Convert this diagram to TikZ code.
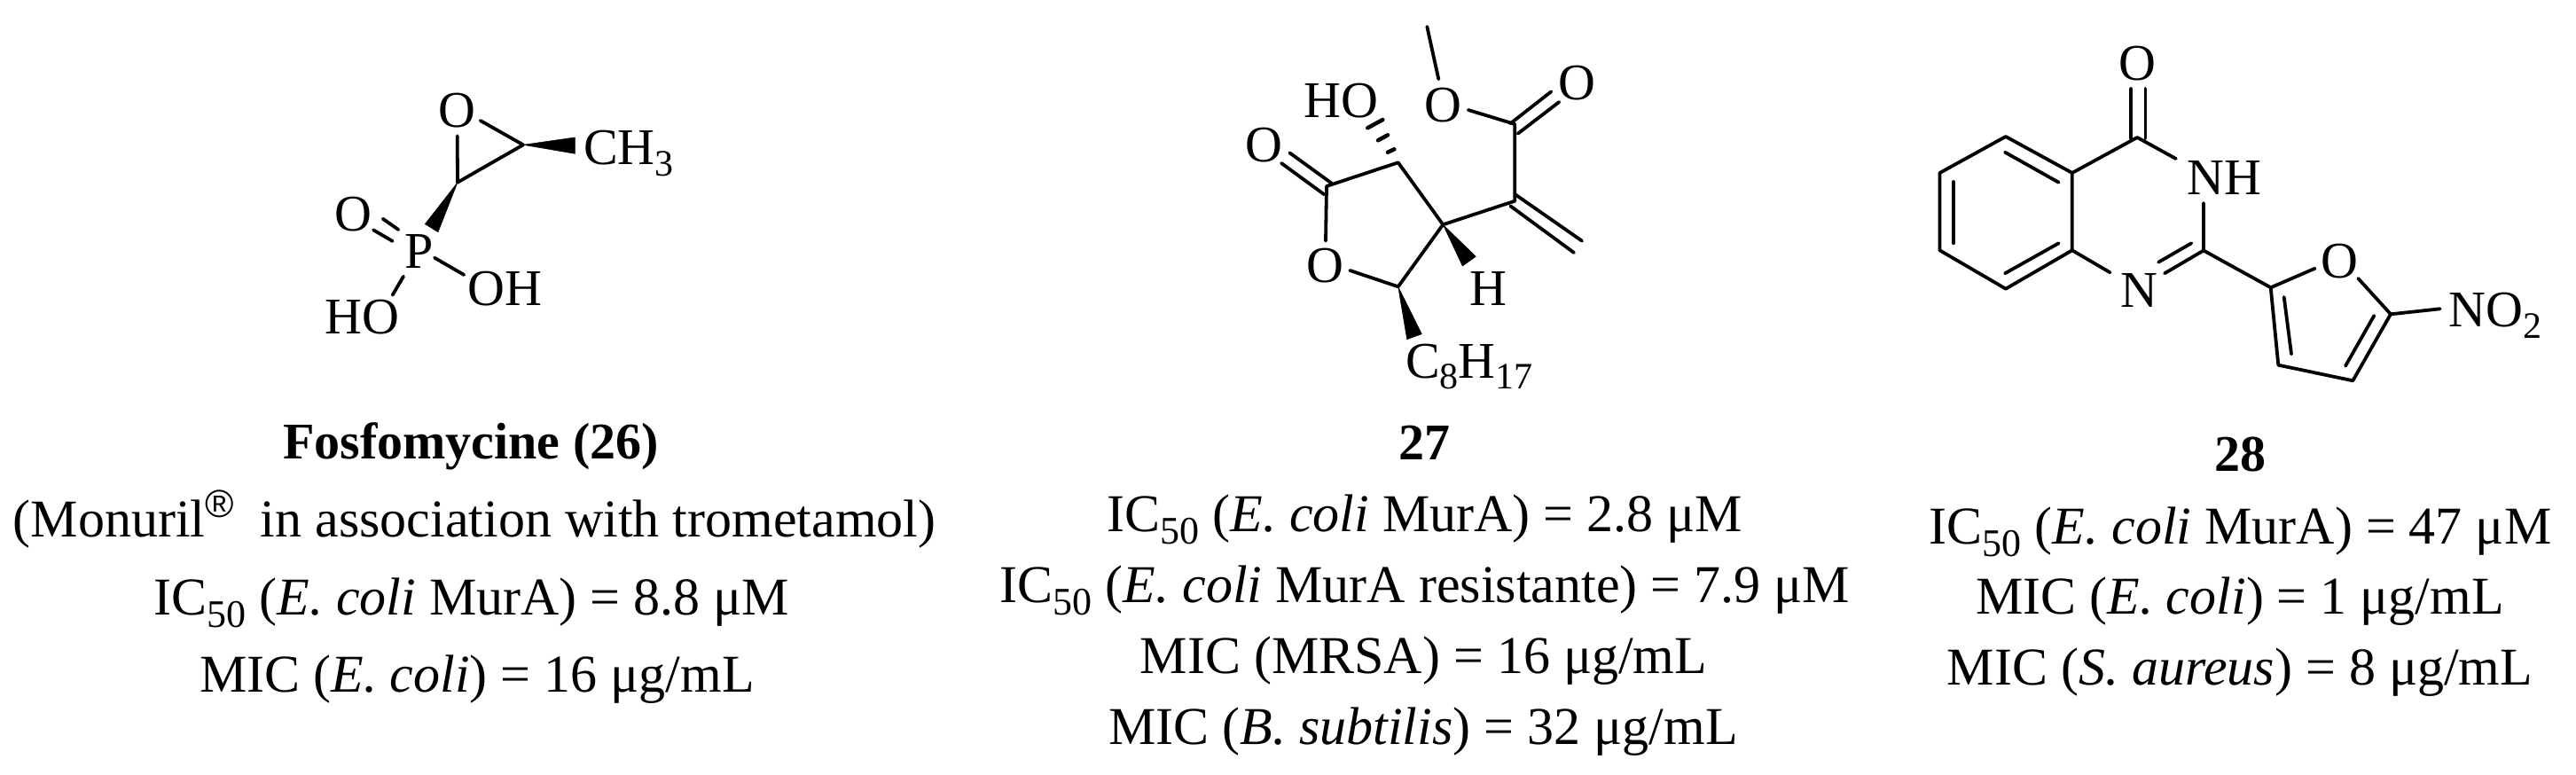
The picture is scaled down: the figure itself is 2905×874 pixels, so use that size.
\documentclass[tikz,border=0pt]{standalone}
\usepackage{fontspec}
\setmainfont{Liberation Serif}
\newfontfamily\regfont{Liberation Sans}
\newcommand{\subs}[1]{\raisebox{-13pt}{\fontsize{42pt}{42pt}\selectfont #1}}
\newcommand{\subt}[1]{\raisebox{-14pt}{\fontsize{44pt}{44pt}\selectfont #1}}
\newcommand{\regmark}{\raisebox{22pt}{\regfont\fontsize{44pt}{44pt}\selectfont ®}}
\tikzset{
  bond/.style={draw=black,line width=3.8pt,line cap=round,line join=round},
  wedge/.style={fill=black,draw=black,line width=0.5pt,line join=miter},
  hashbar/.style={draw=black,line width=4.5pt,line cap=round},
  lab/.style={inner sep=0pt,outer sep=0pt,anchor=base,font=\fontsize{58pt}{60pt}\selectfont,text=black},
  llab/.style={lab,anchor=base west},
  txt/.style={inner sep=0pt,outer sep=0pt,anchor=base,font=\fontsize{60pt}{62pt}\selectfont,text=black},
  boldtxt/.style={txt,font=\fontsize{58pt}{60pt}\selectfont\bfseries}
}
\begin{document}
\begin{tikzpicture}[x=1pt,y=-1pt]
\useasboundingbox (0,0) rectangle (2905,874);
\fill[white] (0,0) rectangle (2905,874);

%%% Compound 26
\node[lab] (aO) at (515,144) {O};
\node[llab] (aCH) at (658,186) {CH\subs{3}};
\node[lab] (aP) at (472.7,302.7) {P};
\node[lab] (aOd) at (398.3,261) {O};
\node[llab] (aOH) at (527.3,345) {OH};
\node[llab] (aHO) at (366.7,376.7) {HO};
\coordinate (a1) at (516,205.7);
\coordinate (a2) at (590,163.3);
\coordinate (aOr) at (541.7,136);
\coordinate (aOb) at (515.7,153.3);
\coordinate (aw1) at (648.3,155);
\coordinate (aw2) at (648.3,173.3);
\coordinate (aw3) at (479.3,252.7);
\coordinate (aw4) at (494,261.7);
\coordinate (ad1) at (431.7,246.7);
\coordinate (ad2) at (449.3,259);
\coordinate (ad3) at (421,259.3);
\coordinate (ad4) at (442.7,272);
\coordinate (ap1) at (490,290.7);
\coordinate (ap2) at (523.3,310);
\coordinate (ap3) at (455,311.7);
\coordinate (ap4) at (442.7,332.7);
\draw[bond] (aOr) -- (a2) -- (a1) -- (aOb);
\fill[wedge] (a2) -- (aw1) -- (aw2) -- cycle;
\fill[wedge] (a1) -- (aw3) -- (aw4) -- cycle;
\draw[bond] (ad1) -- (ad2);
\draw[bond] (ad3) -- (ad4);
\draw[bond] (ap1) -- (ap2);
\draw[bond] (ap3) -- (ap4);

\node[boldtxt] (t26) at (531,517) {Fosfomycine (26)};
\node[txt] (t26a) at (535,605.7) {(Monuril\regmark\ \ in association with trometamol)};
\node[txt] (t26b) at (532,693) {IC\subt{50} (\textit{E. coli} MurA) = 8.8 μM};
\node[txt] (t26c) at (538,780) {MIC (\textit{E. coli}) = 16 μg/mL};

%%% Compound 27
\node[lab] (bOm) at (1627.3,137.3) {O};
\node[lab] (bOk) at (1778.3,113) {O};
\node[lab] (bOl) at (1425,182.3) {O};
\node[lab] (bOr) at (1494,318.3) {O};
\node[llab] (bHO) at (1470.7,132.3) {HO};
\node[llab] (bH) at (1657.7,345) {H};
\node[llab] (bC) at (1585,426) {C\subs{8}H\subs{17}};
\coordinate (bMe) at (1609.3,30);
\coordinate (bMeO) at (1622.3,89.3);
\coordinate (bOC) at (1655.7,124);
\coordinate (bCo) at (1708.3,140);
\coordinate (bd1) at (1703.3,139.3);
\coordinate (bd2) at (1749.3,103.3);
\coordinate (bd3) at (1711.7,150.7);
\coordinate (bd4) at (1758.3,115);
\coordinate (bV) at (1708.3,226.7);
\coordinate (bv1) at (1708.3,219);
\coordinate (bv2) at (1784,271.7);
\coordinate (bv3) at (1703.3,232.3);
\coordinate (bv4) at (1775,285);
\coordinate (b3) at (1627.3,253.3);
\coordinate (b4) at (1576.7,183.3);
\coordinate (b5) at (1496,210);
\coordinate (b5O) at (1495,271.7);
\coordinate (bOC2) at (1522.3,305);
\coordinate (b2) at (1576.7,323.3);
\coordinate (bl1) at (1454.3,172.3);
\coordinate (bl2) at (1501.7,206.7);
\coordinate (bl3) at (1445,184);
\coordinate (bl4) at (1493.3,219.3);
\coordinate (bh1) at (1565,171.7);
\coordinate (bh2) at (1572.3,168.3);
\coordinate (bh3) at (1554,158.3);
\coordinate (bh4) at (1565,152.3);
\coordinate (bh5) at (1542.3,144.3);
\coordinate (bh6) at (1559.3,135);
\coordinate (bw1) at (1649.3,300);
\coordinate (bw2) at (1664.3,289.3);
\coordinate (bw3) at (1586.7,382.7);
\coordinate (bw4) at (1603.3,376.7);
\draw[bond] (bMe) -- (bMeO);
\draw[bond] (bOC) -- (bCo) -- (bV) -- (b3) -- (b4) -- (b5) -- (b5O);
\draw[bond] (bOC2) -- (b2) -- (b3);
\draw[bond] (bd1) -- (bd2);
\draw[bond] (bd3) -- (bd4);
\draw[bond] (bv1) -- (bv2);
\draw[bond] (bv3) -- (bv4);
\draw[bond] (bl1) -- (bl2);
\draw[bond] (bl3) -- (bl4);
\draw[hashbar] (bh1) -- (bh2);
\draw[hashbar] (bh3) -- (bh4);
\draw[hashbar] (bh5) -- (bh6);
\fill[wedge] (b3) -- (bw1) -- (bw2) -- cycle;
\fill[wedge] (b2) -- (bw3) -- (bw4) -- cycle;

\node[boldtxt] (t27) at (1606,518.3) {27};
\node[txt] (t27a) at (1607,599.3) {IC\subt{50} (\textit{E. coli} MurA) = 2.8 μM};
\node[txt] (t27b) at (1607,679) {IC\subt{50} (\textit{E. coli} MurA resistante) = 7.9 μM};
\node[txt] (t27c) at (1605.5,759.3) {MIC (MRSA) = 16 μg/mL};
\node[txt] (t27d) at (1605,839.3) {MIC (\textit{B. subtilis}) = 32 μg/mL};

%%% Compound 28
\node[lab] (cO) at (2410.2,90.7) {O};
\node[llab] (cNH) at (2466.2,220) {NH};
\node[llab] (cN) at (2391.9,347) {N};
\node[lab] (cOf) at (2638.3,313.3) {O};
\node[llab] (cNO) at (2761.7,368.3) {NO\subs{2}};
\coordinate (c1) at (2261.9,154);
\coordinate (c2) at (2187.5,195);
\coordinate (c3) at (2187.5,282.3);
\coordinate (c4) at (2261.9,325.7);
\coordinate (c5) at (2336.8,282.3);
\coordinate (c6) at (2336.8,195);
\coordinate (ci1) at (2261,171.7);
\coordinate (ci2) at (2321.6,205.7);
\coordinate (ci3) at (2202.7,205);
\coordinate (ci4) at (2202.7,274.3);
\coordinate (ci5) at (2261,308.3);
\coordinate (ci6) at (2321.6,274.3);
\coordinate (cC) at (2410.2,155);
\coordinate (co1) at (2403.3,100);
\coordinate (co2) at (2403.3,156);
\coordinate (co3) at (2419.4,100);
\coordinate (co4) at (2419.4,156);
\coordinate (cCN) at (2453.8,179);
\coordinate (cNC) at (2485,229);
\coordinate (cC2) at (2485,282.5);
\coordinate (cn1) at (2441,308.3);
\coordinate (cn2) at (2471.3,274.3);
\coordinate (cn3) at (2434.1,295.7);
\coordinate (cn4) at (2379.5,307.3);
\coordinate (f2) at (2560.7,324.3);
\coordinate (fO1) at (2610.7,302.7);
\coordinate (fO2) at (2659.3,314);
\coordinate (f5) at (2696,354.3);
\coordinate (f4) at (2653.3,429.3);
\coordinate (f3) at (2569.3,411.7);
\coordinate (fi1) at (2575.7,335);
\coordinate (fi2) at (2584,399.3);
\coordinate (fi3) at (2677.3,356);
\coordinate (fi4) at (2645,412.7);
\coordinate (fN) at (2751.7,348.3);
\draw[bond] (c6) -- (c1) -- (c2) -- (c3) -- (c4) -- (c5) -- (c6) -- (cC) -- (cCN);
\draw[bond] (ci1) -- (ci2);
\draw[bond] (ci3) -- (ci4);
\draw[bond] (ci5) -- (ci6);
\draw[bond] (co1) -- (co2);
\draw[bond] (co3) -- (co4);
\draw[bond] (cNC) -- (cC2) -- (cn1);
\draw[bond] (cn2) -- (cn3);
\draw[bond] (c5) -- (cn4);
\draw[bond] (cC2) -- (f2) -- (fO1);
\draw[bond] (f2) -- (f3) -- (f4) -- (f5) -- (fO2);
\draw[bond] (fi1) -- (fi2);
\draw[bond] (fi3) -- (fi4);
\draw[bond] (f5) -- (fN);

\node[boldtxt] (t28) at (2526,531.7) {28};
\node[txt] (t28a) at (2526.6,613.3) {IC\subt{50} (\textit{E. coli} MurA) = 47 μM};
\node[txt] (t28b) at (2526,692.7) {MIC (\textit{E. coli}) = 1 μg/mL};
\node[txt] (t28c) at (2526,772.7) {MIC (\textit{S. aureus}) = 8 μg/mL};
\end{tikzpicture}
\end{document}
